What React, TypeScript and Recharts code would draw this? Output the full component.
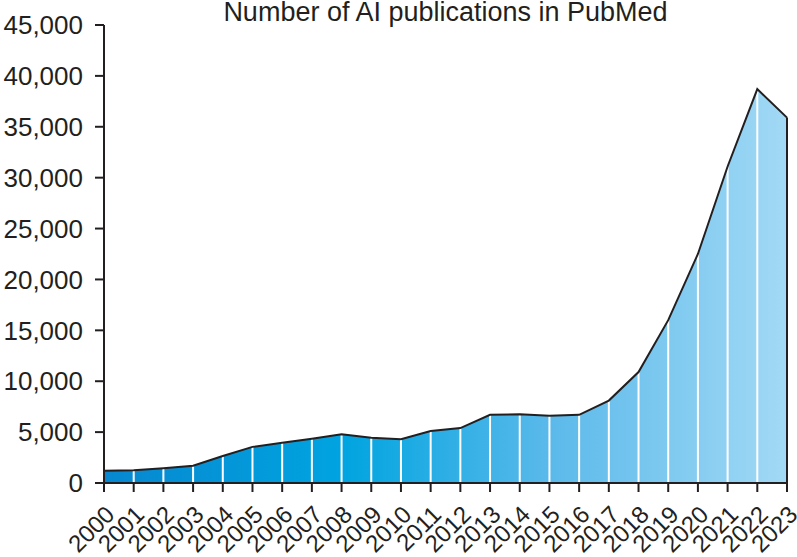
import React from 'react';
import { ComposedChart, Area, Line, XAxis, YAxis, ReferenceLine } from 'recharts';

const years = [2000, 2001, 2002, 2003, 2004, 2005, 2006, 2007, 2008, 2009, 2010, 2011, 2012, 2013, 2014, 2015, 2016, 2017, 2018, 2019, 2020, 2021, 2022, 2023];
const counts = [1200, 1250, 1450, 1700, 2650, 3550, 3950, 4350, 4800, 4450, 4300, 5100, 5400, 6700, 6750, 6600, 6700, 8100, 10900, 16000, 22500, 31100, 38700, 35900];
const yTicks = [0, 5000, 10000, 15000, 20000, 25000, 30000, 35000, 40000, 45000];
const title = 'Number of AI publications in PubMed';

const data = years.map((year, i) => ({ year, count: counts[i] }));

const INK = '#231f20';
const FONT = '"Liberation Sans", Arial, Helvetica, sans-serif';

const fmt = (v: number) => v.toLocaleString('en-US');

export default function App() {
  return (
    <div style={{ position: 'absolute', left: 0, top: 0, width: 797, height: 557, background: '#fff', fontFamily: FONT }}>
      <div
        style={{
          position: 'absolute',
          left: 104,
          width: 683,
          top: 0,
          textAlign: 'center',
          fontSize: 27,
          color: INK,
          fontFamily: FONT,
          lineHeight: '25px',
          whiteSpace: 'nowrap',
        }}
      >
        {title}
      </div>
      <ComposedChart width={797} height={557} data={data} margin={{ top: 25, right: 10, bottom: 4, left: 0 }}>
        <defs>
          <linearGradient id="fillGrad" x1="0" y1="0" x2="1" y2="0">
            <stop offset="0%" stopColor="#0787cf" />
            <stop offset="35%" stopColor="#00a4e0" />
            <stop offset="65%" stopColor="#5ab9ea" />
            <stop offset="100%" stopColor="#a2d9f5" />
          </linearGradient>
        </defs>
        <XAxis
          dataKey="year"
          interval={0}
          height={70}
          tickSize={9}
          tickMargin={12}
          axisLine={{ stroke: INK, strokeWidth: 2 }}
          tickLine={{ stroke: INK, strokeWidth: 2 }}
          tick={{ fill: INK, fontSize: 24, fontFamily: FONT, angle: -45, textAnchor: 'end' }}
        />
        <YAxis
          domain={[0, 45000]}
          ticks={yTicks}
          width={104}
          tickSize={9}
          tickMargin={12}
          tickFormatter={fmt}
          axisLine={{ stroke: INK, strokeWidth: 2 }}
          tickLine={{ stroke: INK, strokeWidth: 2 }}
          tick={{ fill: INK, fontSize: 26, fontFamily: FONT }}
        />
        <Area
          type="linear"
          dataKey="count"
          stroke="none"
          fill="url(#fillGrad)"
          fillOpacity={1}
          isAnimationActive={false}
        />
        {data.slice(1).map((d, i) => (
          <ReferenceLine
            key={d.year}
            segment={[
              { x: d.year, y: 0 },
              { x: d.year, y: d.count },
            ]}
            stroke={i === data.length - 2 ? INK : '#ffffff'}
            strokeWidth={2}
          />
        ))}
        <Line
          type="linear"
          dataKey="count"
          stroke={INK}
          strokeWidth={2}
          dot={false}
          activeDot={false}
          isAnimationActive={false}
        />
      </ComposedChart>
    </div>
  );
}
